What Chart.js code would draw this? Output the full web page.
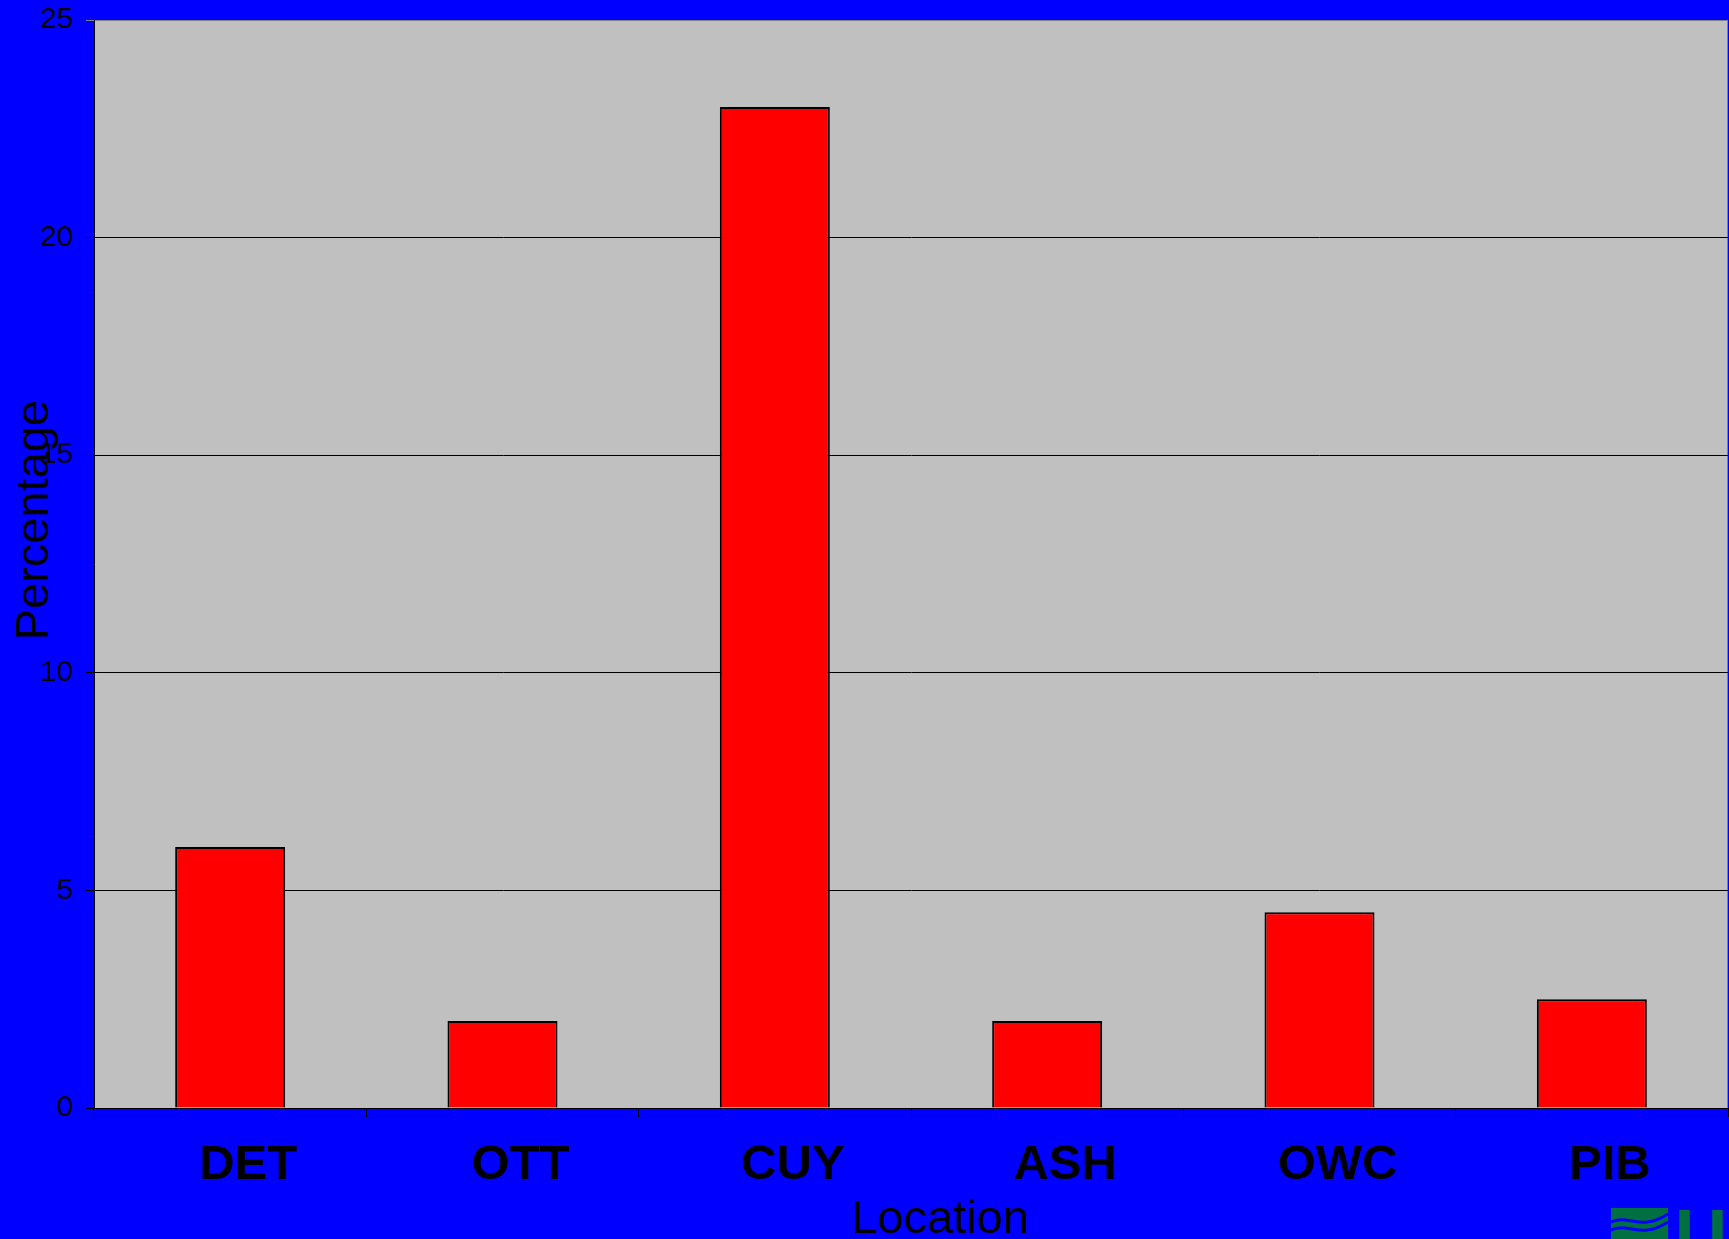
<!DOCTYPE html>
<html>
<head>
<meta charset="utf-8">
<title>Percentage by Location</title>
<script src="https://cdn.jsdelivr.net/npm/chart.js@4.4.1/dist/chart.umd.min.js"></script>
<style>
    html, body { margin: 0; padding: 0; background: #0000ff; overflow: hidden; }
    canvas { display: block; }
</style>
</head>
<body>
<canvas id="chart" width="1729" height="1239"></canvas>
<script>
// Chart data
const locations = ['DET', 'OTT', 'CUY', 'ASH', 'OWC', 'PIB'];
const percentages = [6, 2, 23, 2, 4.5, 2.5];
const yTicks = [0, 5, 10, 15, 20, 25];

const xTitle = 'Location';
const yTitle = 'Percentage';

const FONT = '"Liberation Sans", Arial, Helvetica, sans-serif';

// Grey plot area + border
const plotBackground = {
    id: 'plotBackground',
    beforeDraw(chart) {
        const { ctx, chartArea: a } = chart;
        ctx.save();
        ctx.fillStyle = '#c0c0c0';
        ctx.fillRect(a.left, a.top, a.right - a.left, a.bottom - a.top);
        ctx.strokeStyle = '#808080';
        ctx.lineWidth = 1;
        ctx.strokeRect(a.left + 0.5, a.top + 0.5, a.right - a.left - 1, a.bottom - a.top);
        ctx.restore();
    }
};

// Axis titles drawn by hand (they overlap the tick labels in the original)
const axisTitles = {
    id: 'axisTitles',
    afterDraw(chart) {
        const { ctx, chartArea: a } = chart;
        ctx.save();
        ctx.fillStyle = '#000';
        ctx.font = '47px ' + FONT;
        ctx.textAlign = 'center';
        ctx.textBaseline = 'alphabetic';
        ctx.fillText(xTitle, (a.left + a.right) / 2 + 29, a.bottom + 125);

        ctx.translate(48, (a.top + a.bottom) / 2 - 44);
        ctx.rotate(-Math.PI / 2);
        ctx.fillText(yTitle, 0, 0);
        ctx.restore();
    }
};

// Bit of the logo peeking in at the bottom right corner
const cornerLogo = {
    id: 'cornerLogo',
    afterDraw(chart) {
        const { ctx } = chart;
        ctx.save();
        ctx.fillStyle = '#006f41';
        ctx.fillRect(1611, 1208, 57, 31);
        ctx.strokeStyle = '#0000ff';
        ctx.lineWidth = 3;
        for (let k = 0; k < 2; k++) {
            ctx.beginPath();
            ctx.moveTo(1611, 1222 + k * 8);
            ctx.bezierCurveTo(1630, 1214 + k * 8, 1640, 1232 + k * 8, 1668, 1214 + k * 8);
            ctx.stroke();
        }
        ctx.fillStyle = '#006f41';
        ctx.font = 'bold 72px ' + FONT;
        ctx.textAlign = 'left';
        ctx.textBaseline = 'alphabetic';
        ctx.fillText('USGS', 1675, 1260);
        ctx.restore();
    }
};

const ctx = document.getElementById('chart').getContext('2d');

new Chart(ctx, {
    type: 'bar',
    data: {
        labels: locations,
        datasets: [{
            label: yTitle,
            data: percentages,
            backgroundColor: '#ff0000',
            borderColor: '#000000',
            borderWidth: 2,
            categoryPercentage: 1,
            barPercentage: 0.404
        }]
    },
    options: {
        responsive: false,
        animation: false,
        devicePixelRatio: 1,
        layout: {
            padding: { top: 20, right: 1, left: 0, bottom: 0 }
        },
        plugins: {
            legend: { display: false },
            tooltip: { enabled: false },
            title: { display: false }
        },
        scales: {
            x: {
                offset: true,
                afterFit: scale => {
                    scale.height = 131;
                    scale.paddingLeft = 0;
                    scale.paddingRight = 0;
                },
                grid: {
                    offset: true,
                    drawOnChartArea: false,
                    drawTicks: true,
                    tickLength: 9,
                    color: '#000'
                },
                border: { display: true, color: '#000', width: 1 },
                ticks: {
                    color: '#000',
                    padding: 19,
                    labelOffset: 18,
                    font: { family: FONT, size: 49, weight: 'bold' },
                    maxRotation: 0
                }
            },
            y: {
                min: 0,
                max: 25,
                afterFit: scale => {
                    scale.width = 94;
                    scale.paddingTop = 0;
                    scale.paddingBottom = 0;
                },
                afterBuildTicks: scale => {
                    scale.ticks = yTicks.map(v => ({ value: v }));
                },
                grid: {
                    drawTicks: true,
                    tickLength: 8,
                    lineWidth: 1,
                    color: c => (c.tick && c.tick.value === 25) ? '#808080' : '#000'
                },
                border: { display: true, color: '#000', width: 1 },
                ticks: {
                    color: '#000',
                    padding: 13,
                    font: { family: FONT, size: 30 }
                }
            }
        }
    },
    plugins: [plotBackground, axisTitles, cornerLogo]
});
</script>
</body>
</html>
